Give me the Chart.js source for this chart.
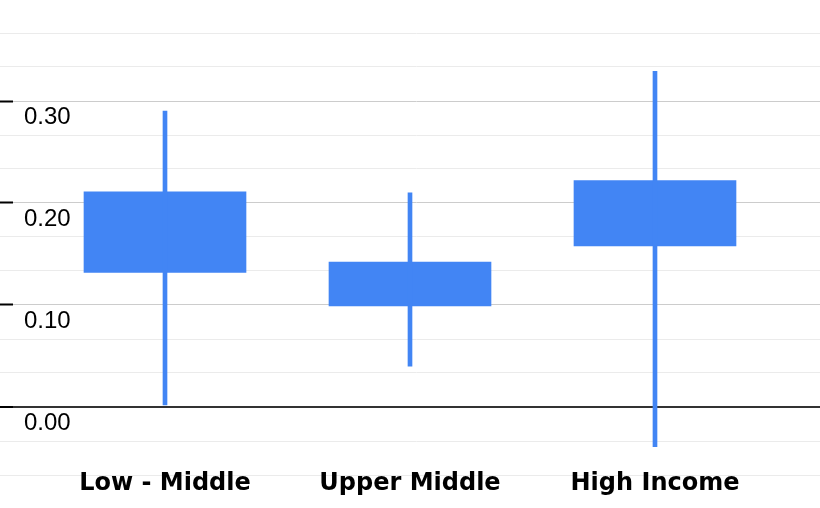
<!DOCTYPE html>
<html>
<head>
<meta charset="utf-8">
<script src="https://cdn.jsdelivr.net/npm/chart.js@4.4.1/dist/chart.umd.min.js"></script>
<style>
  body { margin: 0; background: #fff; }
  #wrap { width: 820px; height: 508px; }
  canvas { display: block; }
</style>
</head>
<body>
<div id="wrap"><canvas id="candleChart" width="820" height="508"></canvas></div>
<script>
// candlestick values
const categories = ["Low - Middle", "Upper Middle", "High Income"];
const lowValues = [0.002, 0.040, -0.039];
const openValues = [0.132, 0.099, 0.158];
const closeValues = [0.211, 0.142, 0.222];
const highValues = [0.290, 0.210, 0.329];
// y gridlines every 1/30, labelled every 0.10
const yTickSteps = [-2, -1, 0, 1, 2, 3, 4, 5, 6, 7, 8, 9, 10, 11];

const blue = "#4285f4";

const bodyData = categories.map((c, i) => ({ x: i, y: [openValues[i], closeValues[i]] }));
const wickData = categories.map((c, i) => ({ x: i, y: [lowValues[i], highValues[i]] }));

function stepOf(v) {
  return Math.round(v * 30);
}

const ctx = document.getElementById("candleChart").getContext("2d");
new Chart(ctx, {
  type: "bar",
  data: {
    datasets: [
      {
        label: "wick",
        data: wickData,
        backgroundColor: blue,
        barThickness: 4,
        grouped: false,
      },
      {
        label: "body",
        data: bodyData,
        backgroundColor: blue,
        barThickness: 162,
        grouped: false,
      },
    ],
  },
  options: {
    responsive: false,
    animation: false,
    layout: { padding: { top: 33, right: 0, left: 0, bottom: 0 } },
    plugins: {
      legend: { display: false },
      tooltip: { enabled: false },
    },
    scales: {
      x: {
        type: "linear",
        offset: false,
        min: -0.6204,
        max: 2.6735,
        afterBuildTicks: (axis) => {
          axis.ticks = categories.map((c, i) => ({ value: i }));
        },
        afterFit: (axis) => {
          axis.height = 33;
        },
        grid: { display: false, drawTicks: false },
        border: { display: false },
        ticks: {
          autoSkip: false,
          maxRotation: 0,
          mirror: true,
          padding: -23.5,
          color: "#000",
          font: { family: "DejaVu Sans", size: 24, weight: "bold", lineHeight: 1.2 },
          callback: (v) => categories[v] || "",
        },
      },
      y: {
        min: -2 / 30,
        max: 11 / 30,
        afterBuildTicks: (axis) => {
          axis.ticks = yTickSteps.map((k) => ({ value: k / 30 }));
        },
        afterFit: (axis) => {
          axis.width = 13;
        },
        border: { display: false },
        grid: {
          tickLength: 13,
          color: (c) => {
            const k = stepOf(c.tick.value);
            if (k === 0) return "#333";
            return k % 3 === 0 ? "#cccccc" : "#ebebeb";
          },
          lineWidth: (c) => (stepOf(c.tick.value) === 0 ? 2 : 1),
          tickColor: (c) => {
            const k = stepOf(c.tick.value);
            return k % 3 === 0 ? "#000" : "#ebebeb";
          },
          tickWidth: (c) => (stepOf(c.tick.value) % 3 === 0 ? 2 : 1),
        },
        ticks: {
          mirror: true,
          padding: 11,
          labelOffset: 16.5,
          color: "#000",
          font: { family: "Liberation Sans", size: 24 },
          callback: (v) => {
            const k = stepOf(v);
            return k % 3 === 0 ? (k / 30).toFixed(2) : "";
          },
        },
      },
    },
  },
});
</script>
</body>
</html>
